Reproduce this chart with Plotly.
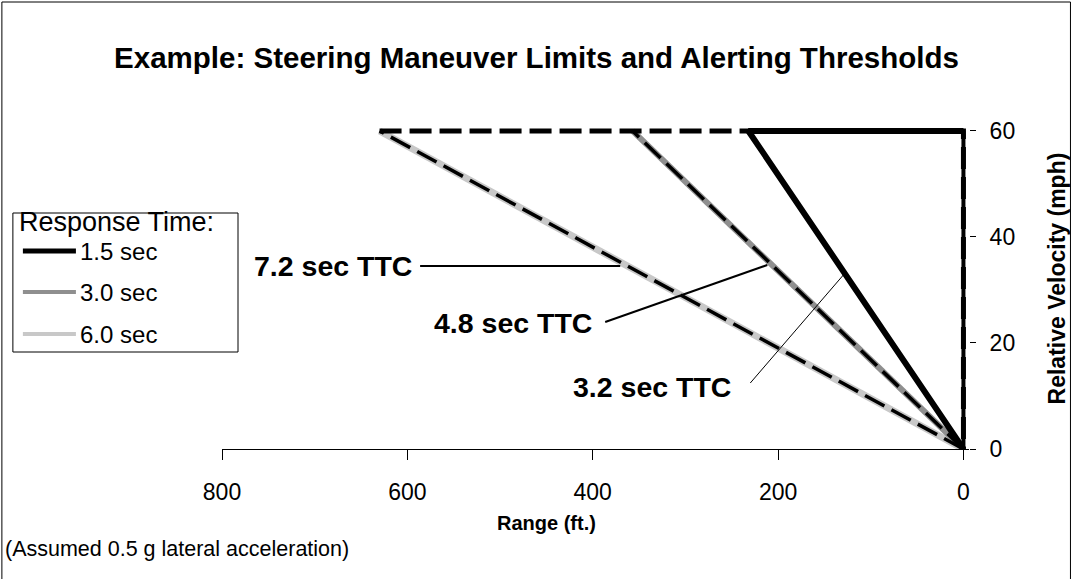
import plotly.graph_objects as go

# ---- data ----
velocity_mph = [0, 60]                      # relative velocity end points
response_labels = ["1.5 sec", "3.0 sec", "6.0 sec"]
limit_range_at_60 = [232, 357, 630]         # range (ft) of each steering limit at 60 mph
response_colors = ["#000000", "#8f8f8f", "#c8c8c8"]
ttc_labels = ["3.2 sec TTC", "4.8 sec TTC", "7.2 sec TTC"]
x_ticks = [800, 600, 400, 200, 0]
y_ticks = [0, 20, 40, 60]
x_range = [800, -6]
y_range = [0, 61.5]

W, H = 1073, 579
L, T, B = 222, 123, 130
R = 1073 - 968.6
PW, PH = W - L - R, H - T - B


def px(xp):
    return (xp - L) / PW


def py(yp):
    return (H - B - yp) / PH


FONT = "Liberation Sans, Arial, sans-serif"
fig = go.Figure()

# steering maneuver limit lines (solid, coloured by response time)
widths = [6, 6, 7]
for i in [2, 1]:
    fig.add_trace(go.Scatter(
        x=[0, limit_range_at_60[i]], y=velocity_mph, mode="lines",
        line=dict(color=response_colors[i], width=widths[i]),
        name=response_labels[i], showlegend=False, hoverinfo="skip"))
# 1.5 s limit closes along the top edge
fig.add_trace(go.Scatter(
    x=[0, limit_range_at_60[0], 0], y=[0, 60, 60], mode="lines",
    line=dict(color=response_colors[0], width=widths[0]),
    name=response_labels[0], showlegend=False, hoverinfo="skip"))
fig.add_trace(go.Scatter(
    x=[0, 0], y=velocity_mph, mode="lines",
    line=dict(color="#000000", width=4), showlegend=False, hoverinfo="skip"))

# dashed alerting-threshold (TTC) lines
for i, lab in enumerate(ttc_labels):
    fig.add_trace(go.Scatter(
        x=[0, limit_range_at_60[i]], y=velocity_mph, mode="lines",
        line=dict(color="#000000", width=3.5, dash="22px,8px"),
        name=lab, showlegend=False, hoverinfo="skip"))
fig.add_trace(go.Scatter(
    x=[max(limit_range_at_60), 0, 0], y=[60, 60, 0], mode="lines",
    line=dict(color="#000000", width=5, dash="22px,8px"),
    showlegend=False, hoverinfo="skip"))

shapes = []
annotations = []

# outer frame
shapes.append(dict(type="rect", xref="paper", yref="paper",
                   x0=px(2), x1=px(1070), y0=py(2), y1=py(H + 5),
                   line=dict(color="#000000", width=1), layer="below"))

# manual legend
shapes.append(dict(type="rect", xref="paper", yref="paper",
                   x0=px(13), x1=px(238), y0=py(213), y1=py(352),
                   line=dict(color="#000000", width=1), fillcolor="white"))
annotations.append(dict(text="Response Time:", xref="paper", yref="paper",
                        x=px(17), y=py(222), xanchor="left", yanchor="middle",
                        showarrow=False, font=dict(family=FONT, size=27, color="#000")))
leg_y = [251, 292, 334]
leg_w = [5, 4, 4]
for i, lab in enumerate(response_labels):
    shapes.append(dict(type="line", xref="paper", yref="paper",
                       x0=px(23), x1=px(76), y0=py(leg_y[i]), y1=py(leg_y[i]),
                       line=dict(color=response_colors[i], width=leg_w[i])))
    annotations.append(dict(text=lab, xref="paper", yref="paper",
                            x=px(78), y=py(leg_y[i]), xanchor="left", yanchor="middle",
                            showarrow=False, font=dict(family=FONT, size=24, color="#000")))

# TTC labels with pointer lines
ttc_pos = [(733, 387), (594, 323), (414, 266)]
for lab, (xx, yy) in zip(ttc_labels, ttc_pos):
    annotations.append(dict(text="<b>" + lab + "</b>", xref="paper", yref="paper",
                            x=px(xx), y=py(yy), xanchor="right", yanchor="middle",
                            showarrow=False, font=dict(family=FONT, size=28.5, color="#000")))
pointers = [((750, 383), (843, 275), 1), ((605, 322), (767, 265), 2),
            ((420, 266), (620, 266), 2)]
for (x0, y0), (x1, y1), w in pointers:
    shapes.append(dict(type="line", xref="paper", yref="paper",
                       x0=px(x0), y0=py(y0), x1=px(x1), y1=py(y1),
                       line=dict(color="#000000", width=w)))

# axis titles and note
annotations.append(dict(text="<b>Range (ft.)</b>", xref="paper", yref="paper",
                        x=px(546), y=py(523), xanchor="center", yanchor="middle",
                        showarrow=False, font=dict(family=FONT, size=20, color="#000")))
annotations.append(dict(text="<b>Relative Velocity (mph)</b>", xref="paper", yref="paper",
                        x=px(1057), y=py(278), xanchor="center", yanchor="middle",
                        textangle=-90, showarrow=False,
                        font=dict(family=FONT, size=23, color="#000")))
annotations.append(dict(text="(Assumed 0.5 g lateral acceleration)", xref="paper", yref="paper",
                        x=px(3), y=py(549), xanchor="left", yanchor="middle",
                        showarrow=False, font=dict(family=FONT, size=21.5, color="#000")))

fig.update_layout(
    width=W, height=H,
    margin=dict(l=L, r=R, t=T, b=B, pad=0),
    paper_bgcolor="white", plot_bgcolor="white",
    title=dict(text="<b>Example: Steering Maneuver Limits and Alerting Thresholds</b>",
               x=0.5, xanchor="center", xref="container",
               y=1 - 58 / H, yanchor="middle", yref="container",
               font=dict(family=FONT, size=29.5, color="#000")),
    font=dict(family=FONT, color="#000"),
    shapes=shapes, annotations=annotations,
    showlegend=False,
)
fig.update_xaxes(range=x_range, tickvals=x_ticks, ticktext=[str(v) for v in x_ticks],
                 showgrid=False, zeroline=False, showline=True, linecolor="#000",
                 linewidth=1, ticks="outside", ticklen=10, tickcolor="#000",
                 ticklabelstandoff=12, tickfont=dict(family=FONT, size=23, color="#000"))
fig.update_yaxes(range=y_range, tickvals=y_ticks, side="right",
                 showgrid=False, zeroline=False, showline=False,
                 ticks="outside", ticklen=6, tickcolor="#000",
                 ticklabelstandoff=9, tickfont=dict(family=FONT, size=23, color="#000"))

fig.write_html("out.html", config={"displayModeBar": False},
               post_script="document.body.style.margin='0';")
